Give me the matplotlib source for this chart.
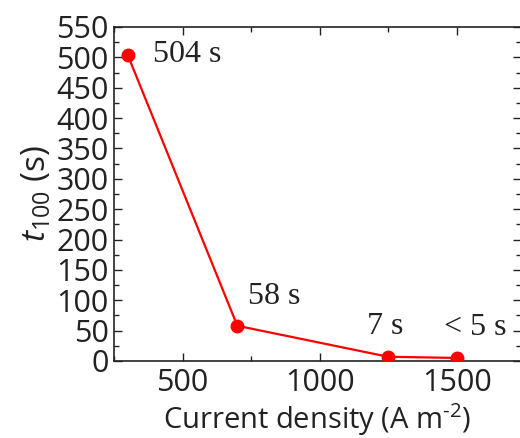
import matplotlib
matplotlib.use("Agg")
import matplotlib.pyplot as plt
from matplotlib.ticker import MultipleLocator

current_density = [300, 700, 1250, 1500]
t100 = [504, 58, 7, 5]
labels = ["504 s", "58 s", "7 s", "< 5 s"]
label_offsets = [(25, 0), (11, 29), (-3, 30), (19, 30)]
label_ha = ["left", "left", "center", "center"]

plt.rcParams['font.family'] = ['Open Sans', 'DejaVu Sans']
plt.rcParams['mathtext.fontset'] = 'custom'
plt.rcParams['mathtext.rm'] = 'Open Sans'
plt.rcParams['mathtext.it'] = 'Open Sans:italic'

fig = plt.figure(figsize=(5.2, 4.38), dpi=100)
ax = fig.add_axes([114/520, 77/438, 407/520, 334/438])

ax.plot(current_density, t100, color='red', lw=1.6, marker='o', ms=9,
        mfc='red', mec='red', zorder=3)

for x, y, s, off, ha in zip(current_density, t100, labels, label_offsets, label_ha):
    ax.annotate(s, (x, y), xytext=off, textcoords='offset pixels',
                ha=ha, va='center', fontsize=23, family='Liberation Serif',
                color='#222222')

ax.set_xlim(250, 1735)
ax.set_ylim(0, 550)
ax.xaxis.set_major_locator(MultipleLocator(500))
ax.xaxis.set_minor_locator(MultipleLocator(250))
ax.yaxis.set_major_locator(MultipleLocator(50))
ax.yaxis.set_minor_locator(MultipleLocator(25))
ax.tick_params(which='both', direction='in', top=True, right=True,
               labelsize=22, width=1, colors='#222222')
ax.tick_params(which='major', length=6)
ax.tick_params(which='minor', length=3.5)
ax.tick_params(axis='x', pad=5)
ax.tick_params(axis='y', pad=4)
for sp in ax.spines.values():
    sp.set_linewidth(1.2)
    sp.set_color('#222222')

ax.set_xlabel(r'Current density (A m$^{\text{-2}}$)', fontsize=21, color='#222222', labelpad=2)
ax.set_ylabel(r'$\it{t}_{\rm 100}$ (s)', fontsize=24, color='#222222', labelpad=2)

fig.savefig('out.png', dpi=100)
